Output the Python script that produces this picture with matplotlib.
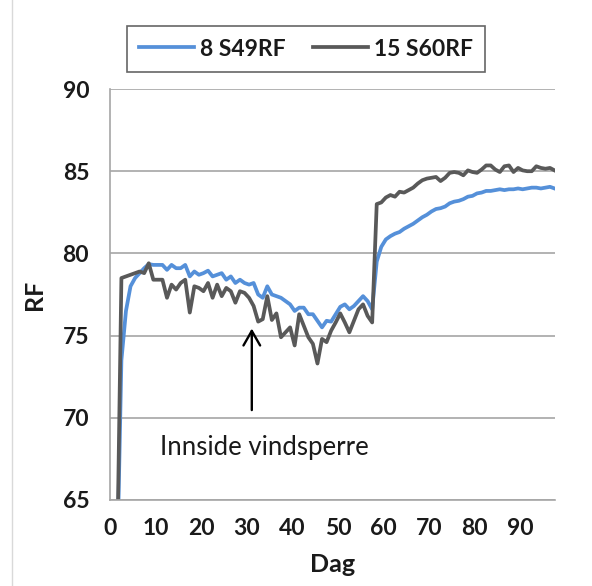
import numpy as np
import matplotlib
matplotlib.use("Agg")
import matplotlib.pyplot as plt
from matplotlib.lines import Line2D

plt.rcParams['font.family'] = ['Lato', 'DejaVu Sans']

# Measurement days (daily readings)
dag = np.arange(1.5, 98.0, 1.0)

# Relative humidity, sensor 8 S49RF
rf_s49 = [
    60.0, 73.5, 76.5, 78.0, 78.5, 78.8, 79.1, 79.35, 79.3, 79.3,
    79.3, 79.0, 79.3, 79.1, 79.1, 79.3, 78.6, 78.9, 78.7, 78.8,
    78.95, 78.6, 78.7, 78.8, 78.4, 78.6, 78.2, 78.4, 78.2, 78.1,
    78.2, 77.5, 77.3, 78.0, 77.5, 77.4, 77.3, 77.1, 76.9, 76.5,
    76.7, 76.7, 76.3, 76.3, 75.9, 75.5, 75.9, 75.85, 76.3, 76.75,
    76.9, 76.6, 76.8, 77.1, 77.4, 77.1, 76.6, 79.5, 80.4, 80.85,
    81.05, 81.2, 81.3, 81.5, 81.65, 81.8, 82.0, 82.2, 82.35, 82.55,
    82.7, 82.75, 82.85, 83.05, 83.15, 83.2, 83.3, 83.45, 83.5, 83.65,
    83.7, 83.8, 83.8, 83.85, 83.9, 83.85, 83.9, 83.9, 83.95, 83.9,
    83.95, 84.0, 84.0, 83.95, 84.0, 84.05, 83.95,
]

# Relative humidity, sensor 15 S60RF
rf_s60 = [
    60.0, 78.5, 78.6, 78.7, 78.8, 78.9, 78.8, 79.4, 78.4, 78.4,
    78.4, 77.3, 78.1, 77.8, 78.2, 78.4, 76.4, 78.0, 77.9, 77.7,
    78.2, 77.3, 78.1, 77.4, 77.9, 77.7, 77.0, 77.7, 77.6, 77.3,
    76.8, 75.85, 76.0, 77.4, 75.95, 76.35, 74.9, 75.2, 75.5, 74.4,
    76.3, 75.6, 74.9, 74.5, 73.3, 74.8, 74.6, 75.3, 75.8, 76.35,
    75.8, 75.2, 75.9, 76.6, 76.9, 76.2, 75.8, 83.0, 83.1, 83.4,
    83.55, 83.45, 83.75, 83.7, 83.85, 84.0, 84.25, 84.45, 84.55, 84.6,
    84.65, 84.4, 84.6, 84.9, 84.95, 84.9, 84.75, 85.05, 84.95, 84.9,
    85.1, 85.35, 85.35, 85.1, 84.95, 85.3, 85.35, 84.95, 85.2, 85.05,
    85.0, 85.0, 85.3, 85.2, 85.15, 85.2, 85.05,
]

series_labels = ["8 S49RF", "15 S60RF"]
series_colors = ["#5590d9", "#595959"]
x_ticks = [0, 10, 20, 30, 40, 50, 60, 70, 80, 90]
y_ticks = [65, 70, 75, 80, 85, 90]

fig = plt.figure(figsize=(5.92, 5.86), dpi=100)
ax = fig.add_axes([110 / 592, 1 - 500 / 586, 445 / 592, 411 / 586])

for vals, lab, col in zip([rf_s49, rf_s60], series_labels, series_colors):
    ax.plot(dag, vals, color=col, lw=2.7, label=lab, solid_joinstyle='round')

ax.set_xlim(0, 97.6)
ax.set_ylim(65, 90)
ax.set_xticks(x_ticks)
ax.set_yticks(y_ticks)
ax.tick_params(axis='both', length=0, labelsize=16.5, labelcolor='#1a1a1a')
ax.tick_params(axis='y', pad=15)
ax.tick_params(axis='x', pad=13)
for t in ax.get_xticklabels() + ax.get_yticklabels():
    t.set_fontweight('bold')

ax.grid(axis='y', color='#a6a6a6', lw=1.2)
ax.set_axisbelow(True)
for s in ['top', 'right']:
    ax.spines[s].set_visible(False)
for s in ['left', 'bottom']:
    ax.spines[s].set_color('#a6a6a6')
    ax.spines[s].set_linewidth(1.2)

ax.set_xlabel("Dag", fontsize=18, fontweight='bold', labelpad=10, color='#1a1a1a')
ax.set_ylabel("RF", fontsize=18, fontweight='bold', labelpad=12, color='#1a1a1a')

# Marker for the inside wind barrier
ax.annotate("", xy=(31.1, 75.6), xytext=(31.1, 70.3),
            arrowprops=dict(arrowstyle="->,head_length=0.7,head_width=0.4",
                            color="black", lw=1.7, mutation_scale=15))
ax.text(11.0, 68.2, "Innside vindsperre", fontsize=18.5, va='center', ha='left',
        color='#1a1a1a')

leg = ax.legend(loc='center', bbox_to_anchor=(306 / 592, 1 - 49 / 586),
                bbox_transform=fig.transFigure, ncol=2, fontsize=16.5,
                frameon=True, fancybox=False, handlelength=2.4,
                handletextpad=0.25, columnspacing=1.2, borderpad=0.55,
                borderaxespad=0)
leg.get_frame().set_edgecolor('#404040')
leg.get_frame().set_linewidth(1.2)
for t in leg.get_texts():
    t.set_fontweight('bold')
    t.set_color('#1a1a1a')

# Chart area border
fig.add_artist(Line2D([12 / 592, 12 / 592], [0, 1], transform=fig.transFigure,
                      color='#d9d9d9', lw=1.0))

fig.savefig("out.png", dpi=100)
